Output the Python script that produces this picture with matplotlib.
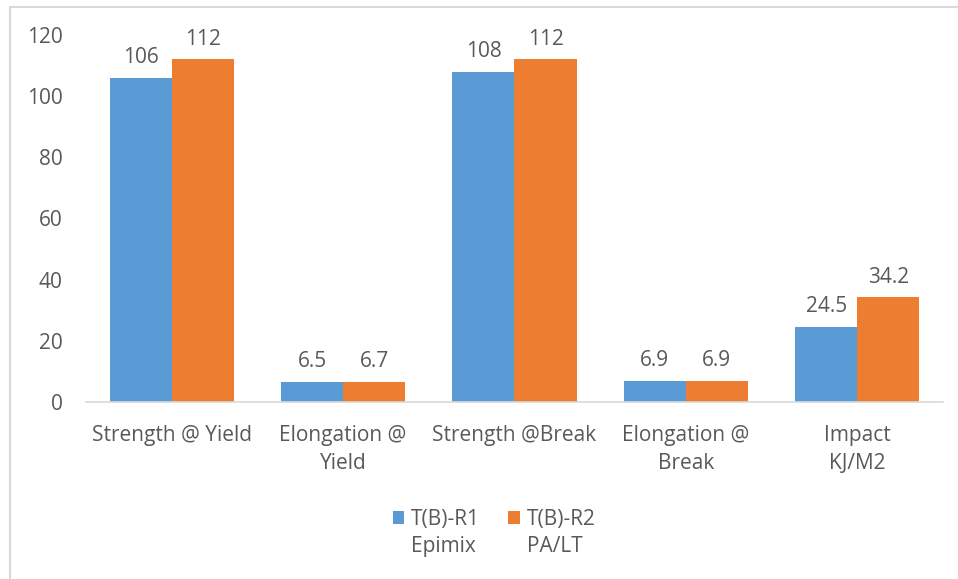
import matplotlib.pyplot as plt
import numpy as np
from matplotlib.patches import Rectangle

plt.rcParams['font.family'] = ['Open Sans', 'DejaVu Sans']

categories = ["Strength @ Yield", "Elongation @\nYield", "Strength @Break",
              "Elongation @\nBreak", "Impact\nKJ/M2"]
r1 = [106, 6.5, 108, 6.9, 24.5]
r2 = [112, 6.7, 112, 6.9, 34.2]
r1_labels = ["106", "6.5", "108", "6.9", "24.5"]
r2_labels = ["112", "6.7", "112", "6.9", "34.2"]
series_names = ["T(B)-R1\nEpimix", "T(B)-R2\nPA/LT"]
yticks = [0, 20, 40, 60, 80, 100, 120]

blue = "#5B9BD5"
orange = "#ED7D31"
txt = "#595959"
fs = 15

fig = plt.figure(figsize=(9.58, 5.79), dpi=100)
ax = fig.add_axes([0.0898, 0.3057, 0.8945, 0.634])

x = np.arange(len(categories))
w = 0.362
b1 = ax.bar(x - w / 2, r1, w, color=blue)
b2 = ax.bar(x + w / 2, r2, w, color=orange)

for bars, labs in ((b1, r1_labels), (b2, r2_labels)):
    for bar, lab in zip(bars, labs):
        ax.annotate(lab, (bar.get_x() + bar.get_width() / 2, bar.get_height()),
                    xytext=(0, 7), textcoords="offset points",
                    ha="center", va="bottom", fontsize=fs, color=txt)

ax.set_xlim(-0.5, len(categories) - 0.5)
ax.set_ylim(0, 120)
ax.set_yticks(yticks)
ax.set_xticks(x)
ax.set_xticklabels(categories, fontsize=fs, color=txt, linespacing=1.45)
ax.tick_params(axis="y", length=0, pad=17, labelsize=fs, labelcolor=txt)
ax.tick_params(axis="x", length=0, pad=16.5)
for s in ("top", "right", "left"):
    ax.spines[s].set_visible(False)
ax.spines["bottom"].set_color("#d9d9d9")
ax.spines["bottom"].set_linewidth(1.2)

# legend: first line next to the marker, second line underneath
first = [n.split("\n")[0] for n in series_names]
second = [n.split("\n")[1] for n in series_names]
leg = fig.legend([b1, b2], first, loc="center", bbox_to_anchor=(0.516, 0.103),
                 ncol=2, frameon=False, fontsize=fs, handlelength=0.55,
                 handleheight=0.55, handletextpad=0.35, columnspacing=1.35,
                 labelcolor=txt)
fig.canvas.draw()
inv = fig.transFigure.inverted()
for t, s2 in zip(leg.get_texts(), second):
    bb = t.get_window_extent()
    x0, y0 = inv.transform((bb.x0, bb.y0))
    fig.text(x0, y0 - 6 / 579, s2, ha="left", va="top", fontsize=fs, color=txt)

# outer chart border
fig.patches.append(Rectangle((10 / 958, -0.1), 2, 1.1 - 7 / 579,
                             transform=fig.transFigure, fill=False,
                             edgecolor="#d9d9d9", linewidth=1.5))

fig.savefig("out.png", dpi=100)
